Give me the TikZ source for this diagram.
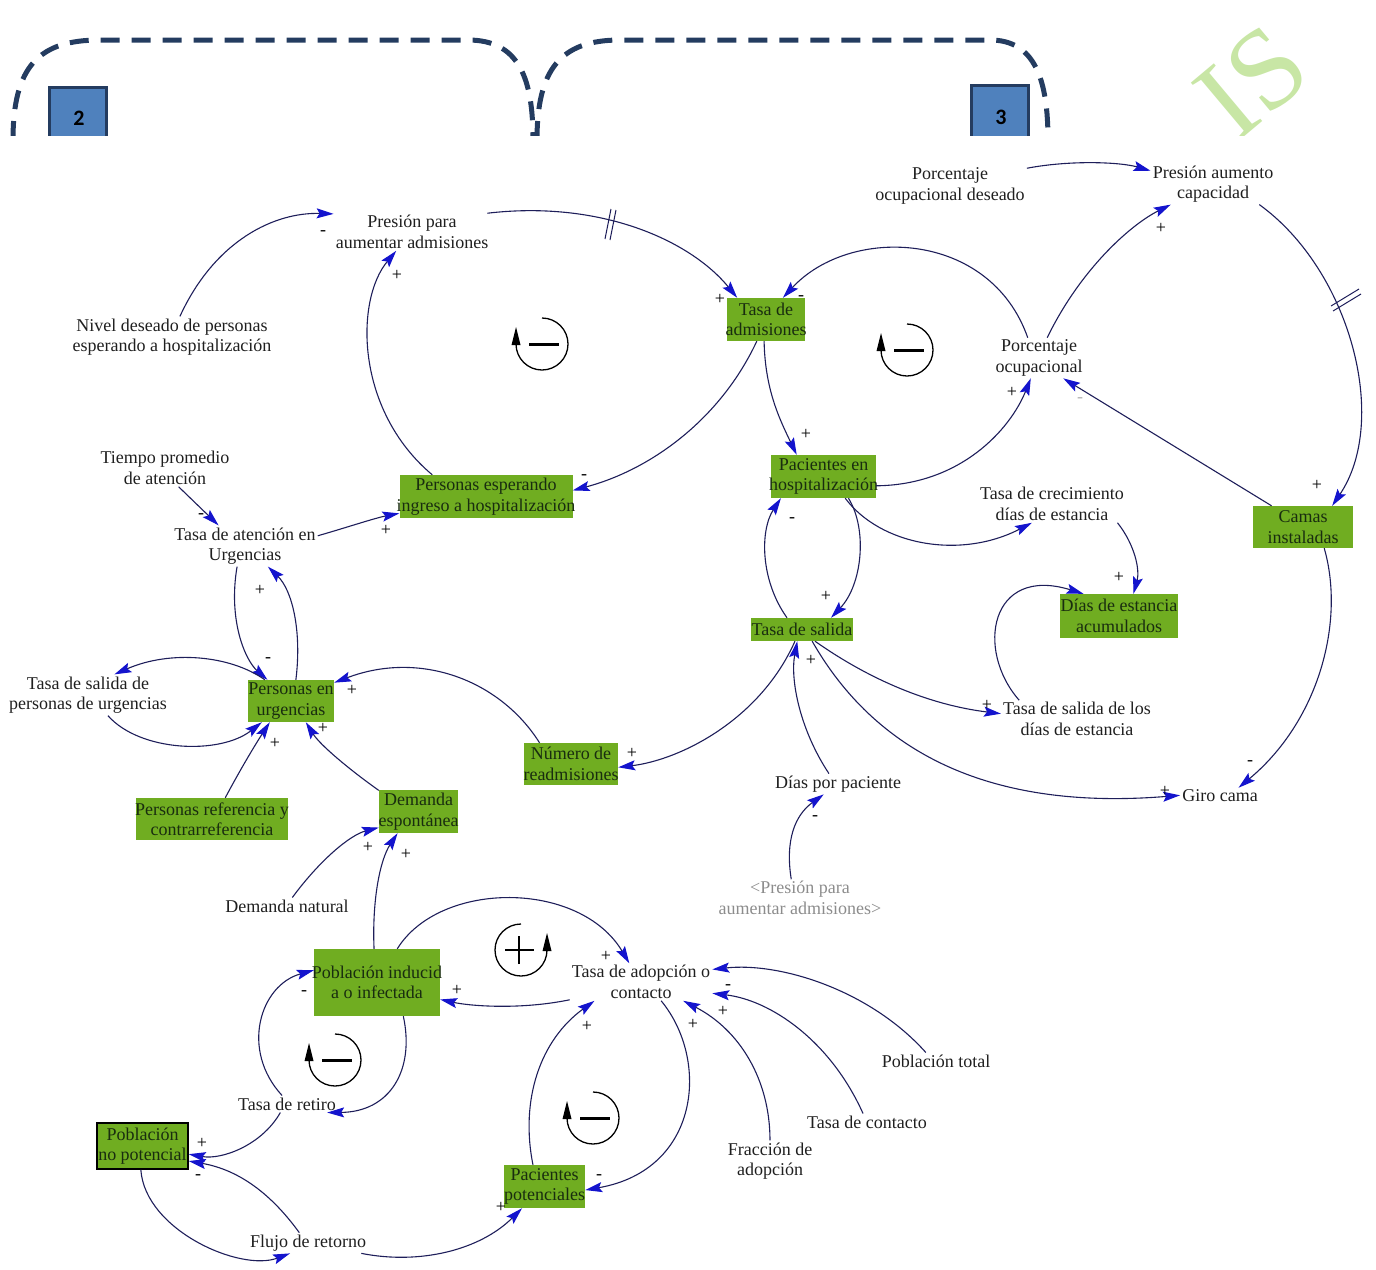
\documentclass[tikz,border=0pt]{standalone}
\usepackage{fontspec}
\setmainfont{Liberation Serif}
\newfontfamily\numfont{Carlito}
\usetikzlibrary{arrows.meta,calc}
\definecolor{boxgreen}{RGB}{112,173,33}
\definecolor{boxtext}{RGB}{25,45,15}
\definecolor{linenavy}{RGB}{30,30,90}
\definecolor{arrowblue}{RGB}{20,20,205}
\definecolor{dashnavy}{RGB}{36,60,96}
\definecolor{numblue}{RGB}{79,129,189}
\definecolor{wmgreen}{RGB}{200,230,165}
\definecolor{refgray}{RGB}{140,140,140}
\newcommand\bl[1]{\makebox[0pt]{#1}}
\begin{document}
\begin{tikzpicture}[x=1pt,y=-1pt,
  txt/.style={inner sep=2pt, align=center, font=\fontsize{18}{20.5}\selectfont, text=black!88},
  gbox/.style={fill=boxgreen, text=boxtext, inner sep=0pt, align=center, font=\fontsize{18}{20.5}\selectfont},
  lnk/.style={draw=linenavy, line width=1.1pt, -{Stealth[length=17pt,width=10pt,inset=3pt,color=arrowblue]}},
  sgn/.style={inner sep=0pt, text=black, font=\fontsize{18}{18}\selectfont},
  wm/.style={rotate=40, text=wmgreen, inner sep=0pt, font=\fontsize{115}{115}\selectfont},
  dly/.style={draw=linenavy, line width=1pt},
  negloop/.pic={
    \begin{scope}[yscale=-1]
      \draw[line width=1.3pt] (0,26) arc[start angle=90,end angle=-180,radius=26];
      \fill (-26,17) -- (-30.5,-1) -- (-21.5,-1) -- cycle;
      \draw[line width=3pt] (-13,0) -- (17,0);
    \end{scope}},
  posloop/.pic={
    \begin{scope}[yscale=-1]
      \draw[line width=1.3pt] (0,26) arc[start angle=90,end angle=360,radius=26];
      \fill (26,17) -- (21.5,-1) -- (30.5,-1) -- cycle;
      \draw[line width=1.8pt] (-16,0) -- (13,0) (-2,-14) -- (-2,14);
    \end{scope}}
]
\useasboundingbox (0,0) rectangle (1376,1269);

% ---------- top strip ----------
\begin{scope}
  \clip (0,0) rectangle (1376,135);
  \draw[dashnavy, line width=5pt, dash pattern=on 19pt off 12pt]
    (13,140) .. controls (13,65) and (40,40) .. (100,40) -- (468,40)
    .. controls (520,40) and (533,80) .. (533,140);
  \draw[dashnavy, line width=5pt, dash pattern=on 19pt off 12pt]
    (537,140) .. controls (537,70) and (560,40) .. (620,40) -- (990,40)
    .. controls (1035,40) and (1048,80) .. (1048,140);
  \draw[fill=numblue, draw=dashnavy, line width=3pt] (49.5,87.5) rectangle (106.5,160);
  \node[font=\numfont\bfseries\fontsize{22}{22}\selectfont] (n2) at (79,118) {2};
  \draw[fill=numblue, draw=dashnavy, line width=3pt] (971.5,85.5) rectangle (1028.5,160);
  \node[font=\numfont\bfseries\fontsize{22}{22}\selectfont] (n3) at (1001,117) {3};
  \node[wm] (wmIS) at (1252,82) {IS};
\end{scope}

% ---------- nodes ----------
\node[txt] (pres) at (412,232) {Presión para\\aumentar admisiones};
\node[txt] (nivel) at (172,337) {Nivel deseado de personas\\esperando a hospitalización};
\node[gbox, minimum width=78pt, minimum height=43pt] (tadm) at (766,319.5) {\bl{Tasa de}\\\bl{admisiones}};
\node[txt] (pod) at (950,186) {Porcentaje\\ocupacional deseado};
\node[txt] (pac) at (1213,184) {Presión aumento\\capacidad};
\node[txt] (po) at (1039,358) {Porcentaje\\ocupacional};
\node[gbox, minimum width=105pt, minimum height=43pt] (phos) at (823.5,476.5) {\bl{Pacientes en}\\\bl{hospitalización}};
\node[gbox, minimum width=173pt, minimum height=43pt] (pesp) at (486,496.5) {\bl{Personas esperando}\\\bl{ingreso a hospitalización}};
\node[txt] (tpa) at (165,468) {Tiempo promedio\\de atención};
\node[txt] (tau) at (245,546) {Tasa de atención en\\Urgencias};
\node[txt] (tcd) at (1052,504) {Tasa de crecimiento\\días de estancia};
\node[gbox, minimum width=100pt, minimum height=42pt] (camas) at (1303,527) {\bl{Camas}\\\bl{instaladas}};
\node[gbox, minimum width=118pt, minimum height=44pt] (dea) at (1119,616) {\bl{Días de estancia}\\\bl{acumulados}};
\node[gbox, minimum width=102pt, minimum height=23pt] (ts) at (802,629.5) {\bl{Tasa de salida}};
\node[txt] (tspu) at (88,695) {Tasa de salida de\\personas de urgencias};
\node[gbox, minimum width=86pt, minimum height=42pt] (pu) at (291,701) {\bl{Personas en}\\\bl{urgencias}};
\node[gbox, minimum width=94pt, minimum height=42pt] (nr) at (571,764) {\bl{Número de}\\\bl{readmisiones}};
\node[txt] (tsde) at (1077,719) {Tasa de salida de los\\días de estancia};
\node[txt] (dpp) at (838,784) {Días por paciente};
\node[txt] (gc) at (1220,796) {Giro cama};
\node[gbox, minimum width=152pt, minimum height=42pt] (prc) at (212,819) {\bl{Personas referencia y}\\\bl{contrarreferencia}};
\node[gbox, minimum width=79pt, minimum height=43pt] (de) at (418.5,811.5) {\bl{Demanda}\\\bl{espontánea}};
\node[txt] (dn) at (287,906) {Demanda natural};
\node[txt, text=refgray] (pref) at (800,898) {<Presión para\\aumentar admisiones>};
\node[gbox, minimum width=126pt, minimum height=67pt] (pii) at (377,982.5) {\bl{Población inducid}\\\bl{a o infectada}};
\node[txt] (tad) at (641,982) {Tasa de adopción o\\contacto};
\node[txt] (pt) at (936,1061) {Población total};
\node[txt] (tc) at (867,1122) {Tasa de contacto};
\node[txt] (fa) at (770,1161) {Fracción de\\adopción};
\node[txt] (tr) at (287,1104) {Tasa de retiro};
\node[gbox, draw=black, line width=1.5pt, minimum width=91pt, minimum height=46pt] (pnp) at (142.5,1146) {\bl{Población}\\\bl{no potencial}};
\node[gbox, minimum width=81pt, minimum height=43pt] (ppot) at (544.5,1186.5) {\bl{Pacientes}\\\bl{potenciales}};
\node[txt] (fr) at (308,1243) {Flujo de retorno};

% ---------- loop symbols ----------
\pic at (542,344) {negloop};
\pic at (907,350) {negloop};
\pic at (521,950) {posloop};
\pic at (335,1060) {negloop};
\pic at (593,1118) {negloop};

% ---------- connectors ----------
\draw[lnk] (nivel.69) .. controls (215,240) and (275,212) .. (pres.167);
\draw[lnk] (pesp.158) .. controls (355,410) and (355,300) .. (pres.230);
\draw[lnk] (pres.14) .. controls (600,200) and (690,240) .. (tadm.143);
\draw[lnk] (tadm.247) .. controls (720,420) and (650,470) .. (pesp.4);
\draw[lnk] (po.119) .. controls (990,230) and (850,225) .. (tadm.52);
\draw[lnk] (tadm.265) .. controls (765,390) and (780,420) .. (phos.141);
\draw[lnk] (phos.350) .. controls (960,485) and (1010,430) .. (po.248);
\draw[lnk] (po.68) .. controls (1080,270) and (1130,225) .. (pac.206);
\draw[lnk] (pod.13) .. controls (1070,160) and (1120,162) .. (pac.168);
\draw[lnk] (pac.336) .. controls (1350,270) and (1390,420) .. (camas.36);
\draw[lnk] (camas.146) -- (po.320);
\draw[lnk] (camas.315) .. controls (1345,620) and (1320,720) .. (gc.24);
\draw[lnk] (phos.315) .. controls (880,545) and (960,560) .. (tcd.223);
\draw[lnk] (tcd.344) .. controls (1135,545) and (1140,570) .. (dea.57);
\draw[lnk] (tsde.162) .. controls (975,650) and (990,565) .. (dea.148);
\draw[lnk] (ts.142) .. controls (760,580) and (760,530) .. (phos.207);
\draw[lnk] (phos.319) .. controls (868,530) and (862,585) .. (ts.22);
\draw[lnk] (ts.239) .. controls (760,720) and (680,760) .. (nr.356);
\draw[lnk] (dpp.131) .. controls (800,730) and (790,680) .. (ts.248);
\draw[lnk] (pref.115) .. controls (785,840) and (795,815) .. (dpp.216);
\draw[lnk] (ts.318) .. controls (870,680) and (930,705) .. (tsde.176);
\draw[lnk] (ts.311) .. controls (880,760) and (1000,810) .. (gc.179);
\draw[lnk] (nr.146) .. controls (500,680) and (420,650) .. (pu.23);
\draw[lnk] (tpa.306) -- (tau.142);
\draw[lnk] (tau.8) .. controls (345,528) and (375,518) .. (pesp.191);
\draw[lnk] (tau.249) .. controls (228,620) and (245,660) .. (pu.138);
\draw[lnk] (pu.77) .. controls (302,630) and (292,590) .. (tau.318);
\draw[lnk] (pu.141) .. controls (230,655) and (170,650) .. (tspu.38);
\draw[lnk] (tspu.314) .. controls (140,752) and (220,755) .. (pu.216);
\draw[lnk] (prc.58) .. controls (240,770) and (255,745) .. (pu.225);
\draw[lnk] (de.152) .. controls (350,770) and (320,745) .. (pu.305);
\draw[lnk] (dn.58) .. controls (320,860) and (350,835) .. (de.202);
\draw[lnk] (pii.95) .. controls (372,900) and (380,860) .. (de.226);
\draw[lnk] (pii.59) .. controls (440,880) and (580,880) .. (tad.122);
\draw[lnk] (tad.194) .. controls (520,1010) and (470,1006) .. (pii.345);
\draw[lnk] (tr.120) .. controls (240,1050) and (260,985) .. (pii.169);
\draw[lnk] (pii.308) .. controls (415,1070) and (390,1112) .. (tr.348);
\draw[lnk] (tr.232) .. controls (262,1145) and (222,1160) .. (pnp.350);
\draw[lnk] (fr.130) .. controls (272,1195) and (240,1170) .. (pnp.342);
\draw[lnk] (pnp.266) .. controls (145,1230) and (240,1272) .. (fr.210);
\draw[lnk] (fr.349) .. controls (420,1265) and (480,1250) .. (ppot.224);
\draw[lnk] (ppot.118) .. controls (520,1100) and (540,1040) .. (tad.202);
\draw[lnk] (tad.317) .. controls (710,1060) and (700,1170) .. (ppot.355);
\draw[lnk] (pt.140) .. controls (870,990) and (780,962) .. (tad.10);
\draw[lnk] (tc.115) .. controls (830,1040) and (770,1000) .. (tad.351);
\draw[lnk] (fa.90) .. controls (770,1080) and (740,1030) .. (tad.336);

% delay marks
\draw[dly] (605,239) -- (611,209) (610,240) -- (616,210);
\draw[dly] (1331,306) -- (1359,289) (1333,311) -- (1361,294);

% ---------- polarity signs ----------
\node[sgn] (s1) at (323,233) {-};
\node[sgn] (s2) at (397,275) {+};
\node[sgn] (s3) at (720,299) {+};
\node[sgn] (s4) at (801,298) {-};
\node[sgn] (s5) at (584,477) {-};
\node[sgn] (s6) at (806,434) {+};
\node[sgn] (s7) at (1012,392) {+};
\node[sgn] (s8) at (1161,228) {+};
\node[sgn] (s9) at (1317,485) {+};
\node[sgn, text=black!30] (s10) at (1080,400) {-};
\node[sgn] (s11) at (1250,763) {-};
\node[sgn] (s12) at (1119,577) {+};
\node[sgn] (s13) at (792,520) {-};
\node[sgn] (s14) at (826,596) {+};
\node[sgn] (s15) at (811,660) {+};
\node[sgn] (s16) at (815,818) {-};
\node[sgn] (s17) at (987,705) {+};
\node[sgn] (s18) at (1165,791) {+};
\node[sgn] (s19) at (632,753) {+};
\node[sgn] (s20) at (352,690) {+};
\node[sgn] (s21) at (201,516) {-};
\node[sgn] (s22) at (386,530) {+};
\node[sgn] (s23) at (268,660) {-};
\node[sgn] (s24) at (260,590) {+};
\node[sgn] (s25) at (275,743) {+};
\node[sgn] (s26) at (323,728) {+};
\node[sgn] (s27) at (368,847) {+};
\node[sgn] (s28) at (406,854) {+};
\node[sgn] (s29) at (606,956) {+};
\node[sgn] (s30) at (457,990) {+};
\node[sgn] (s31) at (304,993) {-};
\node[sgn] (s32) at (202,1143) {+};
\node[sgn] (s33) at (198,1177) {-};
\node[sgn] (s34) at (501,1207) {+};
\node[sgn] (s35) at (587,1026) {+};
\node[sgn] (s36) at (599,1177) {-};
\node[sgn] (s37) at (728,987) {-};
\node[sgn] (s38) at (723,1011) {+};
\node[sgn] (s39) at (693,1024) {+};
\end{tikzpicture}
\end{document}
